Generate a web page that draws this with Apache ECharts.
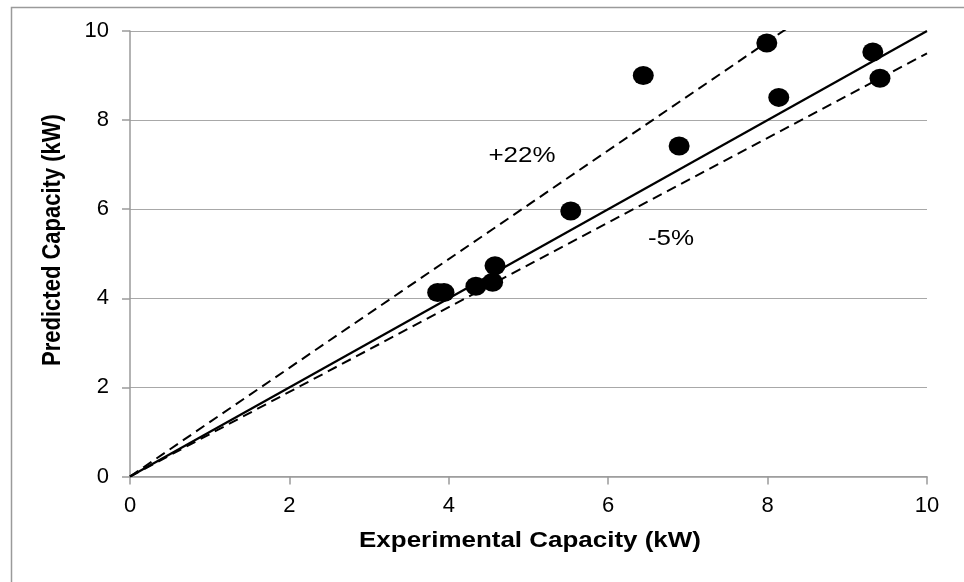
<!DOCTYPE html>
<html>
<head>
<meta charset="utf-8">
<script src="https://cdn.jsdelivr.net/npm/echarts@6/dist/echarts.min.js"></script>
<style>
  html, body { margin: 0; padding: 0; background: #ffffff; }
  #chart { width: 964px; height: 582px; }
</style>
</head>
<body>
<div id="chart"></div>
<script>
// Measured vs. predicted capacity (kW)
const experimental = [3.86, 3.94, 4.34, 4.55, 4.58, 5.53, 6.44, 6.89, 7.99, 8.14, 9.32, 9.41];
const predicted    = [4.13, 4.13, 4.27, 4.36, 4.73, 5.96, 9.00, 7.42, 9.73, 8.51, 9.53, 8.94];

// Reference lines: perfect agreement and the error band
const parityLine = [[0, 0], [10, 10]];
const upperBand  = [[0, 0], [10, 12.2]];   // +22%
const lowerBand  = [[0, 0], [10, 9.5]];    // -5%

const axisTicks = [0, 2, 4, 6, 8, 10];

const xTitle = 'Experimental Capacity (kW)';
const yTitle = 'Predicted Capacity (kW)';

const FONT = '"Liberation Sans", Arial, sans-serif';
const STRETCH = 1.18;

const points = experimental.map((x, i) => [x, predicted[i]]);

const chart = echarts.init(document.getElementById('chart'), null, { renderer: 'canvas' });

const axisCommon = {
  type: 'value',
  min: axisTicks[0],
  max: axisTicks[axisTicks.length - 1],
  interval: axisTicks[1] - axisTicks[0],
  axisLine: { show: true, lineStyle: { color: '#9a9a9a', width: 1.5 } },
  axisTick: { show: true, length: 8, lineStyle: { color: '#9a9a9a', width: 1.5 } },
  axisLabel: { color: '#000', fontFamily: FONT, fontSize: 22 }
};

chart.setOption({
  animation: false,
  backgroundColor: '#ffffff',
  grid: { left: 130, right: 37, top: 31, bottom: 105.5, containLabel: false },
  xAxis: Object.assign({}, axisCommon, {
    splitLine: { show: false },
    axisLabel: Object.assign({}, axisCommon.axisLabel, { margin: 18 })
  }),
  yAxis: Object.assign({}, axisCommon, {
    splitLine: { show: true, lineStyle: { color: '#a8a8a8', width: 1.2 } },
    axisLabel: Object.assign({}, axisCommon.axisLabel, { margin: 21 })
  }),
  series: [
    {
      type: 'line', data: parityLine, symbol: 'none', clip: true, z: 3,
      lineStyle: { color: '#000', width: 2.2 }
    },
    {
      type: 'line', data: upperBand, symbol: 'none', clip: true, z: 3,
      lineStyle: { color: '#000', width: 2, type: [10, 6] }
    },
    {
      type: 'line', data: lowerBand, symbol: 'none', clip: true, z: 3,
      lineStyle: { color: '#000', width: 2, type: [10, 6] }
    },
    {
      type: 'scatter', data: points, symbol: 'circle', symbolSize: [21, 19], z: 5,
      itemStyle: { color: '#000', opacity: 1 }
    }
  ],
  graphic: [
    {
      type: 'rect', left: 9, top: 5, z: -10, silent: true,
      shape: { width: 1000, height: 576 },
      style: { fill: 'none', stroke: '#9a9a9a', lineWidth: 1.5 }
    },
    {
      type: 'text', x: 530, y: 541, scaleX: STRETCH,
      style: { text: xTitle, font: 'bold 22px ' + FONT, fill: '#000', align: 'center', verticalAlign: 'middle' }
    },
    {
      type: 'text', x: 53, y: 240, rotation: Math.PI / 2, scaleY: STRETCH,
      style: { text: yTitle, font: 'bold 22px ' + FONT, fill: '#000', align: 'center', verticalAlign: 'middle' }
    },
    {
      type: 'text', x: 522, y: 156, scaleX: STRETCH,
      style: { text: '+22%', font: '22px ' + FONT, fill: '#000', align: 'center', verticalAlign: 'middle' }
    },
    {
      type: 'text', x: 671, y: 239, scaleX: STRETCH,
      style: { text: '-5%', font: '22px ' + FONT, fill: '#000', align: 'center', verticalAlign: 'middle' }
    }
  ]
});
</script>
</body>
</html>
